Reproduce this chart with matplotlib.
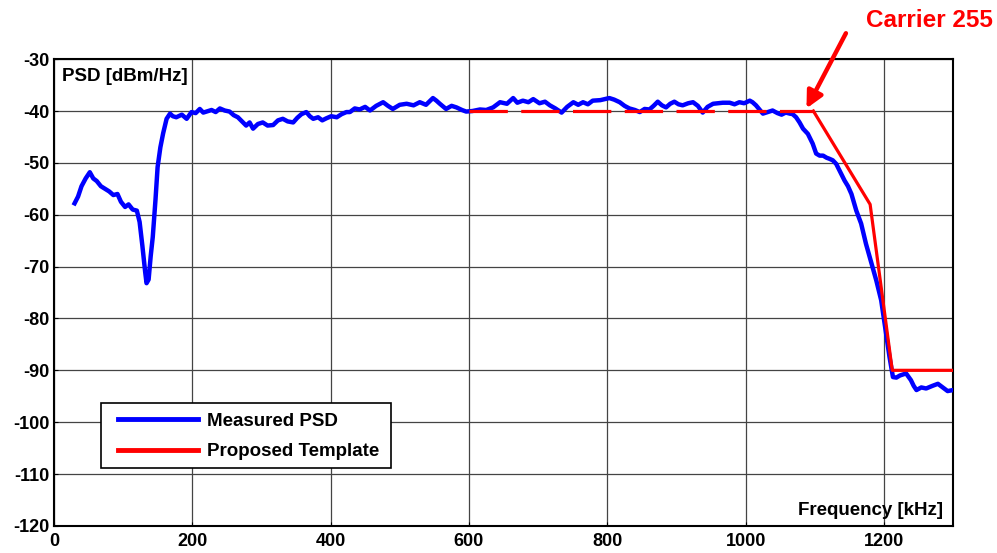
import numpy as np
import matplotlib
matplotlib.use('Agg')
import matplotlib.pyplot as plt
from matplotlib.patches import Rectangle

plt.rcParams['font.family'] = ['Liberation Sans', 'DejaVu Sans']
plt.rcParams['font.weight'] = 'bold'
plt.rcParams['axes.unicode_minus'] = False

# measured PSD (kHz, dBm/Hz)
freq = [30, 35, 40, 46, 52, 57, 62, 68, 74, 80, 86, 92, 97, 103, 108, 114, 120, 124, 128, 132,
        134, 137, 140, 143, 147, 150, 154, 158, 163, 168, 172, 177, 185, 192, 199, 205, 211, 216, 221, 228,
        234, 240, 247, 254, 260, 266, 272, 278, 283, 288, 295, 302, 309, 317, 324, 331, 338, 346, 352, 358,
        365, 370, 375, 382, 388, 394, 401, 409, 416, 423, 428, 435, 442, 450, 457, 466, 476, 483, 490, 500,
        510, 520, 529, 538, 548, 553, 558, 567, 575, 582, 590, 596, 605, 616, 625, 635, 645, 655, 664, 670,
        678, 686, 693, 702, 710, 717, 725, 734, 742, 751, 758, 765, 772, 779, 790, 803, 810, 818, 825, 832,
        840, 847, 854, 861, 867, 873, 879, 885, 891, 897, 903, 909, 917, 924, 931, 938, 945, 953, 960, 967,
        977, 984, 991, 998, 1006, 1010, 1015, 1020, 1025, 1032, 1039, 1046, 1052, 1058, 1064, 1068, 1073, 1078, 1083, 1090,
        1097, 1102, 1107, 1112, 1117, 1121, 1126, 1131, 1137, 1143, 1148, 1153, 1160, 1167, 1174, 1182, 1189, 1196, 1203, 1208,
        1213, 1218, 1223, 1232, 1239, 1243, 1247, 1254, 1261, 1270, 1278, 1285, 1292, 1300]
psd = [-57.8, -56.5, -54.5, -53, -51.8, -53, -53.5, -54.5, -55, -55.5, -56.2, -56, -57.5, -58.5, -58, -59, -59.2, -61.4, -66, -71,
       -73.2, -72.5, -68, -64.3, -57, -50.8, -47, -44.3, -41.5, -40.5, -41, -41.2, -40.7, -41.5, -40.2, -40.4, -39.6, -40.3, -40.1, -39.8,
       -40.2, -39.5, -39.9, -40.1, -40.8, -41.2, -42, -42.8, -42.2, -43.4, -42.5, -42.2, -42.8, -42.7, -41.8, -41.5, -42, -42.2, -41.3, -40.6,
       -40.2, -41, -41.5, -41.2, -41.8, -41.4, -41, -41.2, -40.6, -40.2, -40.2, -39.5, -39.7, -39.2, -39.9, -39, -38.3, -39, -39.6, -38.8,
       -38.6, -38.9, -38.3, -38.8, -37.5, -38, -38.6, -39.6, -39, -39.3, -39.8, -40.1, -40, -39.7, -39.8, -39.3, -38.3, -38.6, -37.5, -38.4,
       -38, -38.3, -37.7, -38.5, -38.2, -38.9, -39.5, -40.3, -39.2, -38.3, -38.8, -38.3, -38.7, -38, -37.9, -37.5, -37.8, -38.3, -39, -39.5,
       -39.8, -40.2, -39.6, -39.7, -39, -38.2, -38.9, -39.3, -38.6, -38.2, -38.7, -38.9, -38.5, -38.3, -39, -40.3, -39.2, -38.6, -38.5, -38.4,
       -38.4, -38.7, -38.3, -38.5, -38, -38.3, -38.9, -39.7, -40.5, -40.2, -39.9, -40.4, -40.7, -40.3, -40.5, -40.6, -41.2, -42.2, -43.4, -44.4,
       -46.3, -48.2, -48.6, -48.6, -49, -49.2, -49.5, -50.2, -51.8, -53.4, -54.5, -56, -59.2, -61.7, -65.6, -69.4, -72.7, -76.5, -82.9, -87.4,
       -91.3, -91.4, -91, -90.6, -91.9, -93, -93.8, -93.3, -93.5, -93, -92.6, -93.3, -94, -93.8]

# proposed template: dashed in-band part, solid roll-off
tmpl_dash_f = [600, 1098]
tmpl_dash_v = [-40, -40]
tmpl_f = [1098, 1180, 1212, 1300]
tmpl_v = [-40, -58, -90, -90]

fig = plt.figure(figsize=(9.97, 5.53), dpi=100)
ax = fig.add_axes([0.054, 0.049, 0.902, 0.844])

ax.grid(True, color='#444444', lw=0.9)
ax.set_axisbelow(True)
ax.plot(freq, psd, color='#0000ff', lw=3.2, label='Measured PSD', zorder=3)
ax.plot(tmpl_dash_f, tmpl_dash_v, color='#ff0000', lw=2.3, dashes=(12, 4.2), zorder=4)
ax.plot(tmpl_f, tmpl_v, color='#ff0000', lw=2.3, label='Proposed Template', zorder=4)

ax.set_xlim(0, 1300)
ax.set_ylim(-120, -30)
ax.set_xticks(range(0, 1201, 200))
ax.set_yticks(range(-120, -29, 10))
ax.tick_params(labelsize=13, direction='in', length=3)
ax.tick_params(axis='x', pad=5)
ax.tick_params(axis='y', pad=3)
for s in ax.spines.values():
    s.set_linewidth(1.5)

ax.text(0.009, 0.962, 'PSD [dBm/Hz]', transform=ax.transAxes, fontsize=13.5, fontweight='bold', va='center')
ax.text(0.989, 0.034, 'Frequency [kHz]', transform=ax.transAxes, fontsize=13.5, fontweight='bold',
        ha='right', va='center')

# legend box drawn separately so its padding matches the reference
ax.add_patch(Rectangle((0.052, 0.124), 0.323, 0.139, transform=ax.transAxes, facecolor='white',
                       edgecolor='black', lw=1.2, zorder=5))
leg = ax.legend(loc='center left', bbox_to_anchor=(0.071, 0.1917), frameon=False,
                fontsize=13.5, handlelength=4.27, handletextpad=0.5,
                labelspacing=0.72, borderpad=0, borderaxespad=0)
leg.set_zorder(6)
for h in leg.get_lines():
    h.set_linewidth(3.5)

ax.annotate('', xy=(1088, -39.5), xytext=(1145, -25), annotation_clip=False,
            arrowprops=dict(arrowstyle='-|>,head_length=1.0,head_width=0.5', color='#ff0000', lw=3.2,
                            shrinkA=0, shrinkB=0))
fig.text(0.932, 0.963, 'Carrier 255', color='#ff0000', fontsize=17.5, fontweight='bold',
         ha='center', va='center')

fig.savefig('out.png', dpi=100, facecolor='white')
